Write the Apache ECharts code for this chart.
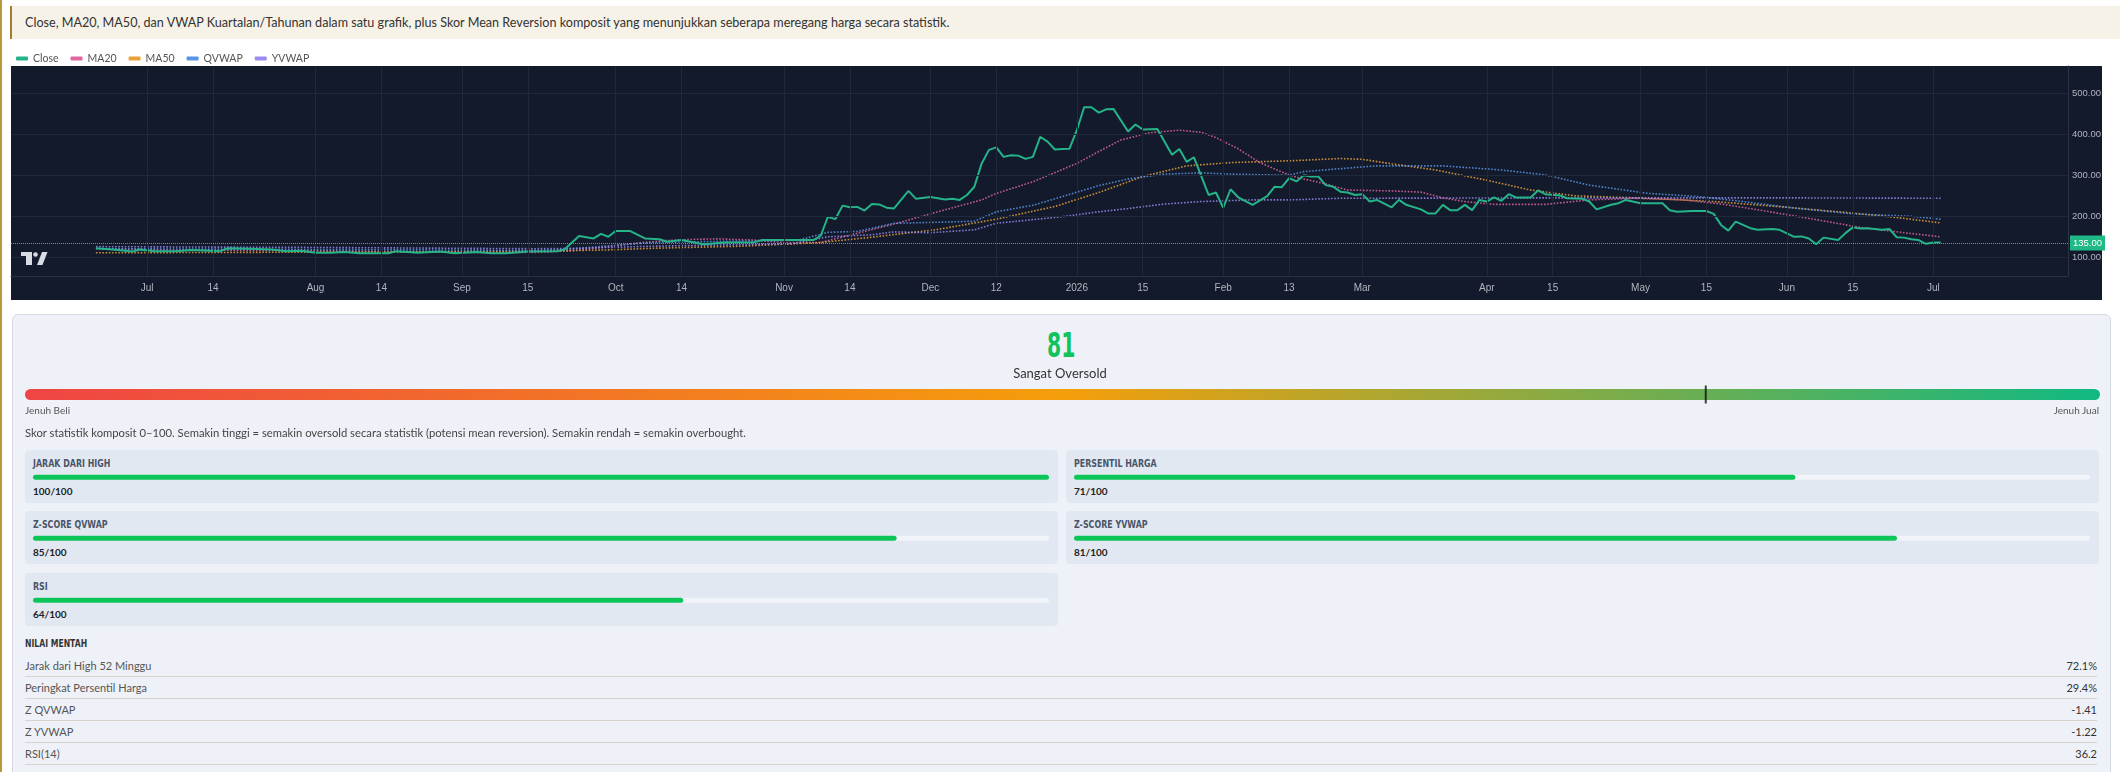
<!DOCTYPE html>
<html>
<head>
<meta charset="utf-8">
<title>Mean Reversion</title>
<script src="https://cdn.jsdelivr.net/npm/echarts@6/dist/echarts.min.js"></script>
<style>
  html, body { margin: 0; padding: 0; background: #fff; width: 2120px; height: 772px; overflow: hidden; font-family: Lato, "Open Sans", sans-serif; }
  .edge { position: absolute; left: 0; top: 0; width: 2px; height: 772px; background: #b89a3c; }
  .note { position: absolute; left: 10px; top: 6px; width: 2110px; height: 33px; background: #f7f2e7; border-left: 2px solid #a37f25; box-sizing: border-box; padding-left: 13px; line-height: 33px; font-size: 12.6px; color: #333; }
  #priceChart { position: absolute; left: 0; top: 44px; width: 2120px; height: 256px; }
  .card { position: absolute; left: 12px; top: 314px; width: 2099px; height: 520px; background: #eef2f8; border: 1px solid #d5dae2; border-radius: 6px; box-sizing: border-box; }
  .abs { position: absolute; white-space: nowrap; }
  .narrow { font-family: "DejaVu Sans", sans-serif; display: inline-block; transform-origin: left center; }
  .big { left: 0; width: 2120px; top: 327px; height: 36px; line-height: 36px; text-align: center; font-size: 34px; font-weight: bold; color: #12c25a; font-family: "DejaVu Sans", sans-serif; transform: scaleX(0.6); transform-origin: 1063px center; }
  .lvl { left: 0; width: 2120px; top: 365px; height: 16px; line-height: 16px; text-align: center; font-size: 13px; color: #333; }
  .small { font-size: 10px; color: #555; height: 14px; line-height: 14px; }
  .desc { left: 25px; top: 426px; font-size: 11.25px; color: #444; height: 14px; line-height: 14px; }
  .box { position: absolute; width: 1033px; height: 53px; background: #e1e8f2; border-radius: 4px; }
  .box .t { position: absolute; left: 8px; top: 7px; font-size: 11px; font-weight: bold; color: #4a5568; transform: scaleX(0.72); }
  .box .v { position: absolute; left: 8px; top: 35px; font-size: 10px; font-weight: bold; color: #222; }
  .head { left: 25px; top: 638px; font-size: 10px; font-weight: bold; color: #333; transform: scaleX(0.77); }
  .row { position: absolute; left: 25px; width: 2072px; height: 21px; border-bottom: 1px solid #d6d3c9; font-size: 11px; line-height: 22px; color: #555; }
  .row span { position: absolute; right: 0; color: #333; }
  #scoreChart { position: absolute; left: 0; top: 380px; width: 2120px; height: 250px; }
</style>
</head>
<body>
<div class="edge"></div>
<div class="note">Close, MA20, MA50, dan VWAP Kuartalan/Tahunan dalam satu grafik, plus Skor Mean Reversion komposit yang menunjukkan seberapa meregang harga secara statistik.</div>
<div id="priceChart"></div>
<div class="card"></div>
<div id="boxes"></div>
<div id="scoreChart"></div>
<div id="texts"></div>

<script>
// sumbu waktu: indeks hari bursa, label seperti TradingView
const xTickIdx = [7, 16, 30, 39, 50, 59, 71, 80, 94, 103, 114, 123, 134, 143, 154, 163, 173, 190, 199, 211, 220, 231, 240, 251];
const xTickText = ['Jul', '14', 'Aug', '14', 'Sep', '15', 'Oct', '14', 'Nov', '14', 'Dec', '12', '2026', '15', 'Feb', '13', 'Mar', 'Apr', '15', 'May', '15', 'Jun', '15', 'Jul'];
const yTicks = [100, 200, 300, 400, 500];
const lastPrice = 135;

// [indeks hari, harga]
const closePts = [[0,122],[3,118],[5,114],[6,119],[8,115],[11,115],[13,118],[17,115],[18,122],[21,121],[24,119],[26,115],[28,116],[30,111],[32,111],[34,113],[36,110],[40,110],[41,115],[44,111],[47,114],[49,110],[52,113],[54,110],[56,110],[59,114],[63,115],[64,119],[66,152],[68,146],[69,157],[70,150],[71,164],[73,164],[75,146],[77,144],[78,138],[80,142],[83,132],[86,136],[90,137],[91,142],[94,142],[98,142],[99,152],[100,199],[101,193],[102,226],[103,222],[104,223],[105,214],[106,230],[107,229],[108,221],[109,219],[111,262],[112,243],[114,247],[116,241],[117,243],[118,240],[119,252],[120,272],[121,329],[122,362],[123,368],[124,345],[125,349],[126,348],[127,340],[128,345],[129,394],[130,382],[131,363],[132,364],[133,365],[134,410],[135,466],[136,466],[137,453],[138,461],[139,462],[141,407],[142,424],[143,412],[145,413],[147,350],[148,364],[149,333],[150,344],[152,252],[153,258],[154,221],[155,266],[156,247],[158,228],[160,249],[161,272],[162,271],[163,293],[164,285],[165,300],[166,297],[167,297],[168,276],[169,272],[170,260],[171,258],[172,252],[173,254],[174,236],[175,240],[177,222],[178,240],[179,228],[181,217],[182,207],[183,207],[184,228],[185,215],[186,215],[187,228],[188,215],[189,240],[190,236],[191,246],[192,238],[193,254],[194,246],[196,246],[197,263],[198,254],[200,251],[201,244],[203,243],[204,236],[205,217],[207,228],[208,232],[209,240],[211,232],[214,232],[215,215],[216,211],[218,213],[220,213],[221,206],[222,179],[223,165],[224,187],[226,171],[227,167],[229,169],[230,167],[232,150],[233,151],[234,146],[235,132],[236,148],[238,142],[239,159],[240,173],[241,170],[242,171],[244,167],[245,169],[246,149],[247,148],[248,144],[249,142],[250,133],[251,136],[252,136]];
const ma20Pts = [[0,121],[10,118],[20,117],[30,116],[40,114],[50,112],[60,112],[65,116],[70,126],[74,135],[78,141],[82,144],[85,145],[90,142],[94,136],[99,136],[103,154],[109,181],[115,211],[121,240],[123,256],[128,284],[134,329],[137,358],[140,386],[144,404],[148,410],[151,405],[153,392],[156,365],[159,331],[162,308],[164,295],[168,279],[171,264],[177,262],[181,259],[184,245],[187,236],[191,229],[198,229],[204,240],[210,244],[217,240],[222,230],[228,213],[234,195],[241,173],[247,160],[252,150]];
const ma50Pts = [[0,111],[20,112],[40,113],[60,115],[70,118],[76,122],[88,127],[99,136],[106,149],[115,168],[123,193],[131,224],[137,258],[143,297],[149,323],[155,331],[164,336],[170,341],[173,339],[177,328],[183,313],[190,288],[196,264],[202,250],[212,244],[221,236],[231,222],[240,208],[246,197],[252,184]];
const qvwapPts = [[0,121],[30,119],[60,117],[64,119],[70,128],[76,136],[82,138],[90,140],[96,142],[100,161],[104,163],[109,183],[114,185],[120,188],[123,211],[128,227],[132,248],[137,275],[141,291],[146,303],[151,306],[155,303],[163,300],[165,309],[172,319],[175,323],[184,323],[192,313],[198,301],[204,276],[212,256],[219,248],[225,236],[232,220],[240,206],[248,200],[252,193]];
const yvwapPts = [[0,126],[30,124],[60,121],[66,122],[76,127],[85,130],[95,133],[100,150],[106,155],[109,162],[114,160],[120,167],[123,183],[132,199],[137,211],[141,219],[146,230],[151,236],[158,240],[163,240],[170,244],[200,245],[230,245],[252,244]];

// skor komposit
const compositeScore = 81;
const scoreLabel = 'Sangat Oversold';
const metricNames = ['JARAK DARI HIGH', 'PERSENTIL HARGA', 'Z-SCORE QVWAP', 'Z-SCORE YVWAP', 'RSI'];
const metricScores = [100, 71, 85, 81, 64];
const rawNames = ['Jarak dari High 52 Minggu', 'Peringkat Persentil Harga', 'Z QVWAP', 'Z YVWAP', 'RSI(14)'];
const rawValues = ['72.1%', '29.4%', '-1.41', '-1.22', '36.2'];

const tickLabel = {};
xTickIdx.forEach((v, i) => { tickLabel[v] = xTickText[i]; });

const colors = { Close: '#25b489', MA20: '#e0669f', MA50: '#e9a13b', QVWAP: '#5a95e3', YVWAP: '#9b8aef' };

function maSeries(name, pts) {
  return {
    name: name, type: 'line', data: pts, symbol: 'none', z: 3,
    itemStyle: { color: colors[name] },
    lineStyle: { color: colors[name], width: 1.6, type: 'dotted', opacity: 0.85 }
  };
}

const priceChart = echarts.init(document.getElementById('priceChart'));
priceChart.setOption({
  animation: false,
  legend: {
    left: 11, top: 4, icon: 'roundRect', itemWidth: 12, itemHeight: 4, itemGap: 12,
    textStyle: { color: '#555', fontSize: 10.5, fontFamily: 'Lato' },
    data: ['Close', 'MA20', 'MA50', 'QVWAP', 'YVWAP']
  },
  graphic: [
    { type: 'rect', silent: true, z: -1, shape: { x: 11, y: 22, width: 2091, height: 234 }, style: { fill: '#121a2b' } },
    { type: 'rect', silent: true, z: 100, shape: { x: 21, y: 208, width: 11, height: 4 }, style: { fill: '#d9dce3' } },
    { type: 'rect', silent: true, z: 100, shape: { x: 26, y: 208, width: 6, height: 13 }, style: { fill: '#d9dce3' } },
    { type: 'circle', silent: true, z: 100, shape: { cx: 35.5, cy: 210.5, r: 2.3 }, style: { fill: '#d9dce3' } },
    { type: 'polygon', silent: true, z: 100, shape: { points: [[37, 221], [42, 208], [47.5, 208], [42.5, 221]] }, style: { fill: '#d9dce3' } }
  ],
  grid: { left: 11, right: 52, top: 22, bottom: 24, outerBoundsMode: 'none' },
  xAxis: {
    type: 'value', min: -11.6, max: 269.4,
    axisLine: { show: true, onZero: false, lineStyle: { color: '#2b3244' } },
    axisTick: { show: false },
    splitLine: { show: false },
    axisLabel: {
      customValues: xTickIdx, color: '#b2b5be', fontSize: 10, margin: 7,
      formatter: v => tickLabel[v] || ''
    }
  },
  yAxis: {
    type: 'value', position: 'right', min: 54.4, max: 566.6,
    axisLine: { show: true, onZero: false, lineStyle: { color: '#2b3244' } },
    axisTick: { show: false },
    splitLine: { show: false },
    axisLabel: { customValues: yTicks, color: '#b2b5be', fontSize: 9.5, margin: 4, align: 'left', formatter: v => v.toFixed(2) }
  },
  series: [
    {
      name: 'grid', type: 'line', data: [], z: 1, silent: true,
      markLine: {
        silent: true, symbol: 'none', animation: false, label: { show: false },
        lineStyle: { color: '#202839', width: 1, type: 'solid' },
        data: xTickIdx.map(v => ({ xAxis: v })).concat(yTicks.map(v => ({ yAxis: v })))
      }
    },
    {
      name: 'Close', type: 'line', data: closePts, symbol: 'none', z: 4,
      itemStyle: { color: colors.Close },
      lineStyle: { color: colors.Close, width: 2 },
      markLine: {
        silent: true, symbol: 'none', animation: false,
        lineStyle: { color: '#26b8a0', width: 1, type: 'dotted' },
        label: {
          position: 'end', distance: 2, formatter: lastPrice.toFixed(2),
          color: '#fff', backgroundColor: '#1fb886', padding: [3, 3, 2, 3], fontSize: 9.5
        },
        data: [{ yAxis: lastPrice }]
      }
    },
    maSeries('MA20', ma20Pts),
    maSeries('MA50', ma50Pts),
    maSeries('QVWAP', qvwapPts),
    maSeries('YVWAP', yvwapPts)
  ]
});

// teks dan kotak metrik (HTML)
const boxLayout = [[25, 450], [1066, 450], [25, 511], [1066, 511], [25, 573]];
const chartTop = 380;
let boxHtml = '';
metricNames.forEach((n, i) => {
  boxHtml += '<div class="box" style="left:' + boxLayout[i][0] + 'px;top:' + boxLayout[i][1] + 'px">' +
    '<div class="t narrow">' + n + '</div><div class="v">' + metricScores[i] + '/100</div></div>';
});
document.getElementById('boxes').innerHTML = boxHtml;

let txt = '';
txt += '<div class="abs big">' + compositeScore + '</div>';
txt += '<div class="abs lvl">' + scoreLabel + '</div>';
txt += '<div class="abs small" style="left:25px;top:403px">Jenuh Beli</div>';
txt += '<div class="abs small" style="right:21px;top:403px">Jenuh Jual</div>';
txt += '<div class="abs desc">Skor statistik komposit 0–100. Semakin tinggi = semakin oversold secara statistik (potensi mean reversion). Semakin rendah = semakin overbought.</div>';
txt += '<div class="abs head narrow">NILAI MENTAH</div>';
rawNames.forEach((n, i) => {
  txt += '<div class="row" style="top:' + (655 + i * 22) + 'px">' + n + '<span>' + rawValues[i] + '</span></div>';
});
document.getElementById('texts').innerHTML = txt;

// bar skor: gauge gradien + 5 progress bar
const scoreChart = echarts.init(document.getElementById('scoreChart'));
const grids = [{ left: 25, right: 20, top: 9, height: 11, outerBoundsMode: 'none' }];
metricNames.forEach((n, i) => {
  grids.push({ left: boxLayout[i][0] + 8, width: 1016, top: boxLayout[i][1] + 27.3 - 2.5 - chartTop, height: 5, outerBoundsMode: 'none' });
});
const xAxes = grids.map((g, i) => ({ type: 'value', gridIndex: i, min: 0, max: 100, show: false }));
const yAxes = grids.map((g, i) => ({ type: 'category', gridIndex: i, data: [''], show: false }));
const scoreSeries = [
  {
    type: 'bar', xAxisIndex: 0, yAxisIndex: 0, barWidth: 11, data: [100], silent: true,
    itemStyle: {
      borderRadius: 5.5,
      color: { type: 'linear', x: 0, y: 0, x2: 1, y2: 0, colorStops: [
        { offset: 0, color: '#ef4444' }, { offset: 0.5, color: '#f59e0b' }, { offset: 1, color: '#10b981' }] }
    }
  },
  {
    type: 'scatter', xAxisIndex: 0, yAxisIndex: 0, data: [[compositeScore, 0]], silent: true, z: 5,
    symbol: 'rect', symbolSize: [2, 18], itemStyle: { color: '#111' }
  }
];
metricScores.forEach((v, i) => {
  scoreSeries.push({
    type: 'bar', xAxisIndex: i + 1, yAxisIndex: i + 1, barWidth: 5, data: [v], silent: true,
    showBackground: true, backgroundStyle: { color: '#f1f4f9', borderRadius: 3 },
    itemStyle: { color: '#0cc559', borderRadius: 3 }
  });
});
scoreChart.setOption({ animation: false, grid: grids, xAxis: xAxes, yAxis: yAxes, series: scoreSeries });
</script>
</body>
</html>
